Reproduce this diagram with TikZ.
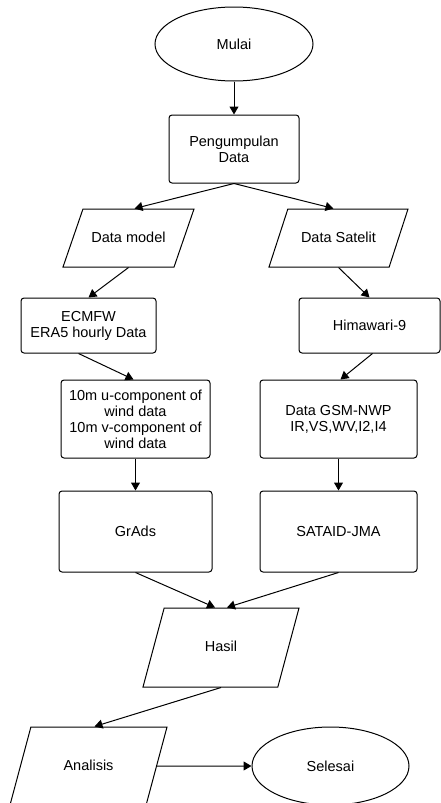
\documentclass[tikz,border=0pt]{standalone}
\usepackage{fontspec}
\setmainfont{Liberation Sans}
\usetikzlibrary{arrows.meta,%
		shapes.geometric}

\begin{document}
\begin{tikzpicture}[x=1pt,y=-1pt,
	font=\fontsize{14.5}{16}\selectfont,
	kotak/.style={draw,rounded corners=3pt,align=center,line width=1pt,inner sep=0pt},
	oval/.style={draw,ellipse,line width=1pt,inner sep=0pt},
	jajar/.style={draw,trapezium,trapezium left angle=#1,trapezium right angle=180-#1,
		trapezium stretches body=true,line width=1pt,inner xsep=0pt,
		text height=11pt,text depth=3pt},
	panah/.style={-{Triangle[width=9pt,length=8pt]},line width=1pt}]
\useasboundingbox (0,0) rectangle (441,803);
%mulai
\node[oval,minimum width=158pt,minimum height=74pt] (mulai) at (234,44) {Mulai};
\node[kotak,minimum width=130pt,minimum height=68pt] (kumpul) at (234,149) {Pengumpulan\\Data};
%cabang kiri
\node[jajar=71,inner ysep=22pt,minimum width=131pt] (model) at (128.5,238) {Data model};
\node[kotak,minimum width=135pt,minimum height=55pt] (ecmwf) at (88.5,325.5) {ECMFW\\ERA5 hourly Data};
\node[kotak,minimum width=149pt,minimum height=78pt] (angin) at (135.5,419) {10m u-component of\\wind data\\10m v-component of\\wind data};
\node[kotak,minimum width=153pt,minimum height=81pt] (grads) at (135.5,531.5) {GrAds};
%cabang kanan
\node[jajar=72,inner ysep=22pt,minimum width=139pt] (satelit) at (338.5,238) {Data Satelit};
\node[kotak,minimum width=141pt,minimum height=55pt] (himawari) at (369.5,325.5) {Himawari-9};
\node[kotak,minimum width=157pt,minimum height=78pt] (gsm) at (338.5,419) {Data GSM-NWP\\IR,VS,WV,I2,I4};
\node[kotak,minimum width=157pt,minimum height=81pt] (sataid) at (338.5,531.5) {SATAID-JMA};
%hasil
\node[jajar=75,inner ysep=32.5pt,minimum width=156pt] (hasil) at (221,647.5) {Hasil};
\node[jajar=75,inner ysep=32pt,minimum width=157pt] (analisis) at (88.5,766) {Analisis};
\node[oval,minimum width=157pt,minimum height=78pt] (selesai) at (330.5,766) {Selesai};
%panah
\draw[panah] (mulai) -- (kumpul);
\draw[panah] (kumpul.south) -- ([xshift=6pt]model.north);
\draw[panah] (kumpul.south) -- ([xshift=-5pt]satelit.north);
\draw[panah] (model.south) -- (ecmwf.north);
\draw[panah] (satelit.south) -- (himawari.north);
\draw[panah] ([xshift=-10pt]ecmwf.south) -- ([xshift=-2pt]angin.north);
\draw[panah] ([xshift=3pt]himawari.south) -- ([xshift=2pt]gsm.north);
\draw[panah] (angin) -- (grads);
\draw[panah] (gsm) -- (sataid);
\draw[panah] (grads.south) -- ([xshift=-6pt]hasil.north);
\draw[panah] (sataid.south) -- ([xshift=6pt]hasil.north);
\draw[panah] (hasil.south) -- ([xshift=6pt]analisis.north);
\draw[panah] (analisis.east) -- (selesai.west);
\end{tikzpicture}
\end{document}
